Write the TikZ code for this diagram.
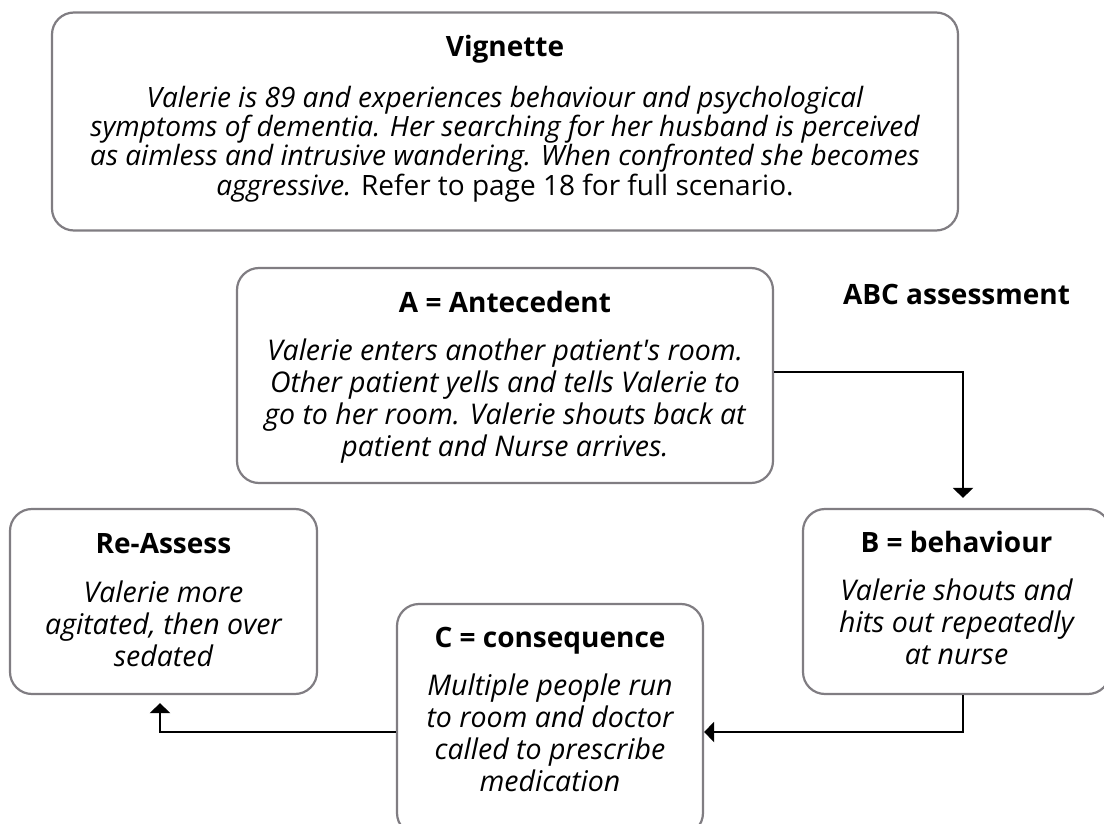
\documentclass[tikz,border=0pt]{standalone}
\usepackage{fontspec}
\setmainfont{Open Sans}[Ligatures=TeXOff]
\usetikzlibrary{arrows.meta,calc}
\definecolor{boxgray}{RGB}{128,125,130}
\begin{document}
\begin{tikzpicture}[x=1pt,y=-1pt,
  box/.style={draw=boxgray, line width=2.2pt, rounded corners=22pt, fill=white, inner sep=0pt},
  ttl/.style={font=\fontsize{28}{32}\selectfont\bfseries, anchor=base, inner sep=0pt},
  body/.style={font=\fontsize{28.5}{32}\selectfont\itshape, anchor=base, align=center, inner sep=0pt},
  arr/.style={line width=2.2pt, -{Triangle[width=20pt,length=10pt]}}]
\useasboundingbox (0,0) rectangle (1104,824);
\clip (0,0) rectangle (1104,824);
\fill[white] (0,0) rectangle (1104,824);

% boxes
\node[box, minimum width=906pt, minimum height=218pt] (V) at (505,121.5) {};
\node[box, minimum width=536pt, minimum height=215pt] (A) at (505,375.5) {};
\node[box, minimum width=307pt, minimum height=185pt] (B) at (956.5,601.5) {};
\node[box, minimum width=306pt, minimum height=231pt] (C) at (550,719.5) {};
\node[box, minimum width=307pt, minimum height=185pt] (R) at (163.5,601.5) {};

% texts (body anchor = baseline of last line)
\node[ttl] (Vt) at (505,57) {Vignette};
\node[body, font=\fontsize{28}{29.5}\selectfont\itshape] (Vb) at (505,195.5) {Valerie is 89 and experiences behaviour and psychological\\symptoms of dementia. Her searching for her husband is perceived\\as aimless and intrusive wandering. When confronted she becomes\\aggressive.\upshape{} Refer to page 18 for full scenario.};

\node[ttl] (At) at (505,312) {A = Antecedent};
\node[body] (Ab) at (505,456) {Valerie enters another patient's room.\\Other patient yells and tells Valerie to\\go to her room. Valerie shouts back at\\patient and Nurse arrives.};

\node[ttl] (abc) at (956.5,304) {ABC assessment};

\node[ttl] (Bt) at (956.5,552) {B = behaviour};
\node[body] (Bb) at (956.5,664) {Valerie shouts and\\hits out repeatedly\\at nurse};

\node[ttl] (Ct) at (550,647) {C = consequence};
\node[body] (Cb) at (550,791) {Multiple people run\\to room and doctor\\called to prescribe\\medication};

\node[ttl] (Rt) at (163.5,553) {Re-Assess};
\node[body] (Rb) at (163.5,666) {Valerie more\\agitated, then over\\sedated};

% connectors
\draw[arr, shorten >=10pt] ([yshift=3.5pt]A.east) -| ([xshift=6.5pt]B.north);
\draw[arr] ([xshift=6.5pt]B.south) |- ([yshift=-12.5pt]C.east);
\draw[arr, shorten >=8pt] ([yshift=-12.5pt]C.west) -| ([xshift=-3.5pt]R.south);
\end{tikzpicture}
\end{document}
